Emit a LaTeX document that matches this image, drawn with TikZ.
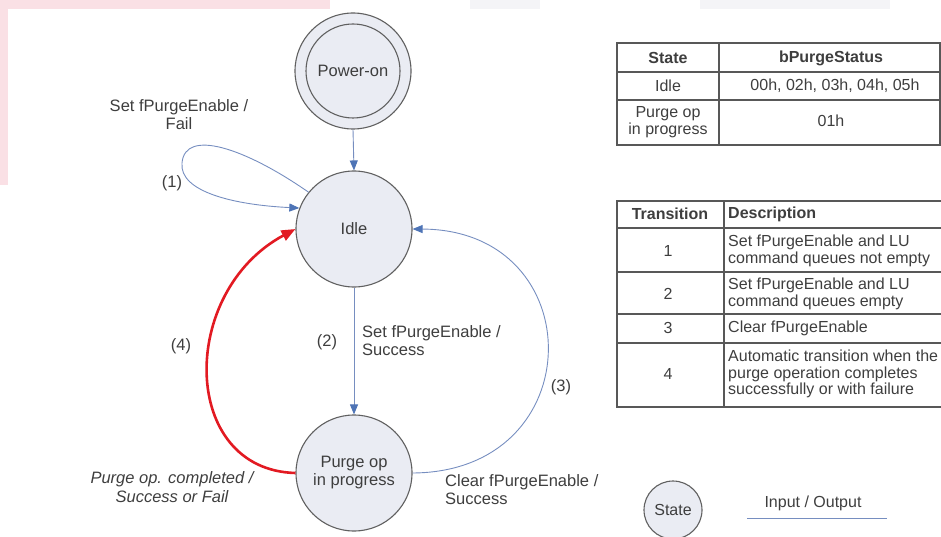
\documentclass[tikz,border=0pt]{standalone}
\usepackage{fontspec}
\setmainfont{Liberation Sans}
\usetikzlibrary{arrows.meta}

\definecolor{ink}{RGB}{62,62,62}
\definecolor{rim}{RGB}{96,96,96}
\definecolor{statefill}{RGB}{234,236,243}
\definecolor{flow}{RGB}{78,116,182}
\definecolor{flowline}{RGB}{118,142,192}
\definecolor{fault}{RGB}{226,26,34}
\definecolor{grid}{RGB}{88,88,88}
\definecolor{tintpink}{RGB}{250,224,229}
\definecolor{tintgrey}{RGB}{244,244,247}

\begin{document}
\begin{tikzpicture}[x=1pt,y=-1pt,
  every node/.style={text=ink, font=\fontsize{16.5}{18}\selectfont},
  state/.style={circle, draw=rim, line width=1.1pt, fill=statefill,
    minimum size=116pt, inner sep=0pt, align=center},
  ring/.style={circle, draw=rim, line width=1.1pt, minimum size=94pt, inner sep=0pt},
  legendstate/.style={circle, draw=rim, line width=1.1pt, fill=statefill,
    minimum size=58pt, inner sep=0pt},
  trans/.style={draw=flowline, line width=0.9pt,
    -{Triangle[length=10pt,width=8pt,color=flow]}},
  faulttrans/.style={draw=fault, line width=2.6pt,
    -{Triangle[length=14pt,width=11pt,color=fault]}},
  lbl/.style={align=center, inner sep=0pt},
  lbll/.style={align=left, inner sep=0pt, anchor=west},
  tablecell/.style={inner sep=0pt, font=\fontsize{16}{16.5}\selectfont},
  tablerule/.style={draw=grid, line width=1.1pt},
]
\useasboundingbox (0,0) rectangle (941,537);
\clip (0,0) rectangle (941,537);

% faint tinted bands along the top and left edges
\fill[tintpink] (0,0) rectangle (330,9);
\fill[tintpink] (0,0) rectangle (8,185);
\fill[tintgrey] (470,0) rectangle (540,9);
\fill[tintgrey] (700,0) rectangle (890,9);

% states
\node[state] (pwr) at (353,71) {};
\node[ring] (pwrin) at (pwr.center) {Power-on};
\node[state] (idle) at (354,229) {Idle};
\node[state] (purge) at (354,473) {Purge op\\in progress};

% transitions
\draw[trans] (pwr.south) -- (idle.north);
\draw[trans] (idle.south) -- (purge.north);
\draw[trans] (idle.141) .. controls (245,148) and (185,128) .. (182,163)
  .. controls (179,192) and (235,205) .. (idle.159);
\draw[trans] (purge.east) .. controls (592,472) and (592,230) .. (idle.east);
\draw[faulttrans] (purge.west) .. controls (180,470) and (178,292) .. (idle.west);

% transition labels
\node[lbl] (l1) at (179,115) {Set fPurgeEnable /\\Fail};
\node[lbl] (n1) at (172,183) {(1)};
\node[lbl] (n2) at (327,342) {(2)};
\node[lbll] (l2) at (362,341) {Set fPurgeEnable /\\Success};
\node[lbl] (n3) at (561,387) {(3)};
\node[lbll] (l3) at (445,490) {Clear fPurgeEnable /\\Success};
\node[lbl] (n4) at (181,346) {(4)};
\node[lbl, font=\fontsize{16.5}{19}\selectfont\itshape] (l4) at (172,487)
  {Purge op. completed /\\Success or Fail};

% state / status table
\draw[tablerule] (617,43) rectangle (940,145);
\draw[tablerule] (719,43) -- (719,145);
\draw[tablerule] (617,72) -- (940,72);
\draw[tablerule] (617,100) -- (940,100);
\node[tablecell, font=\fontsize{16}{16.5}\selectfont\bfseries] (h1) at (668,58) {State};
\node[tablecell, font=\fontsize{16}{16.5}\selectfont\bfseries] (h2) at (831,58) {bPurgeStatus};
\node[tablecell] (s1) at (668,86) {Idle};
\node[tablecell] (v1) at (835,86) {00h, 02h, 03h, 04h, 05h};
\node[tablecell, align=center] (s2) at (668,122) {Purge op\\in progress};
\node[tablecell] (v2) at (831,121) {01h};

% transition table
\draw[tablerule] (945,201) -- (617,201) -- (617,407) -- (945,407);
\draw[tablerule] (724,201) -- (724,407);
\foreach \ry in {228,272,314,343}
  \draw[tablerule] (617,\ry) -- (945,\ry);
\node[tablecell, font=\fontsize{16}{16.5}\selectfont\bfseries] (t0) at (670,214) {Transition};
\node[tablecell, font=\fontsize{16}{16.5}\selectfont\bfseries, anchor=west] (d0) at (728,214) {Description};
\node[tablecell] (t1) at (668,251) {1};
\node[tablecell, align=left, anchor=west] (d1) at (728,251) {Set fPurgeEnable and LU\\command queues not empty};
\node[tablecell] (t2) at (668,294) {2};
\node[tablecell, align=left, anchor=west] (d2) at (728,294) {Set fPurgeEnable and LU\\command queues empty};
\node[tablecell] (t3) at (668,328) {3};
\node[tablecell, anchor=west] (d3) at (728,328) {Clear fPurgeEnable};
\node[tablecell] (t4) at (668,374) {4};
\node[tablecell, align=left, anchor=west] (d4) at (728,374)
  {Automatic transition when the\\purge operation completes\\successfully or with failure};

% legend
\node[legendstate, font=\fontsize{16}{16.5}\selectfont] (lgs) at (673,510) {State};
\node[inner sep=0pt, font=\fontsize{16}{16.5}\selectfont] (lgio) at (813,503) {Input / Output};
\coordinate (ioL) at (747,518);
\coordinate (ioR) at (887,518);
\draw[draw=flowline, line width=0.9pt] (ioL) -- (ioR);
\end{tikzpicture}
\end{document}
